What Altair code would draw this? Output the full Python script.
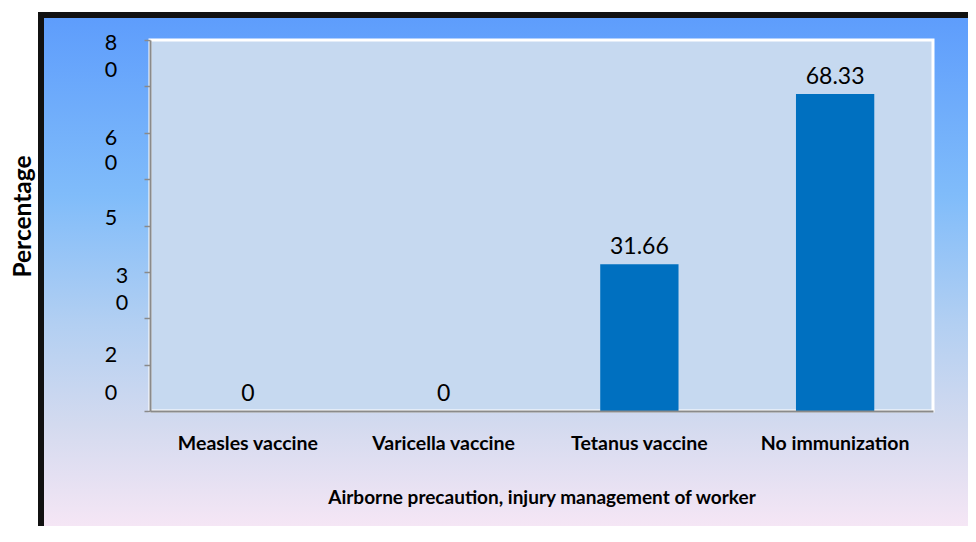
import altair as alt
import pandas as pd

# ---- data ----
categories = ["Measles vaccine", "Varicella vaccine", "Tetanus vaccine", "No immunization"]
values = [0, 0, 31.66, 68.33]
value_labels = ["0", "0", "31.66", "68.33"]

# garbled y tick labels as they appear (one glyph each), with the value where each sits
ytick_text_main = ["8", "0", "6", "0", "5", "2", "0"]
ytick_pos_main = [79.1, 73.4, 58.7, 53.3, 41.5, 11.8, 3.6]
ytick_text_shift = ["3", "0"]
ytick_pos_shift = [28.9, 23.0]

tick_values = [0, 10, 20, 30, 40, 50, 60, 70, 80]

W, H = 783, 371
PAD = {"left": 142, "top": 32, "right": 35, "bottom": 115}
FONT = "Lato"

df = pd.DataFrame({"category": categories, "value": values, "label": value_labels})
df_ya = pd.DataFrame({"t": ytick_text_main, "value": ytick_pos_main})
df_yb = pd.DataFrame({"t": ytick_text_shift, "value": ytick_pos_shift})
one = pd.DataFrame({"k": [0]})

right_edge = W + PAD["right"]
bottom_edge = H + PAD["bottom"]

frame = alt.Chart(one).mark_rect(color="#111111").encode(
    x=alt.value(-112), x2=alt.value(right_edge),
    y=alt.value(-28), y2=alt.value(bottom_edge),
)

grad = alt.Chart(one).mark_rect(
    color=alt.Gradient(
        gradient="linear", x1=0, x2=0, y1=0, y2=1,
        stops=[
            alt.GradientStop(offset=0, color="#5e9dfc"),
            alt.GradientStop(offset=0.35, color="#80bcfa"),
            alt.GradientStop(offset=0.6, color="#b2cff2"),
            alt.GradientStop(offset=0.8, color="#d3daef"),
            alt.GradientStop(offset=1, color="#f5e6f5"),
        ],
    )
).encode(
    x=alt.value(-106), x2=alt.value(right_edge),
    y=alt.value(-22), y2=alt.value(bottom_edge),
)

plotbg = alt.Chart(one).mark_rect(fill="#c6d9f0", stroke="white", strokeWidth=3).encode(
    x=alt.value(0), x2=alt.value(W), y=alt.value(0), y2=alt.value(H),
)

xaxis = alt.Axis(
    title="Airborne precaution, injury management of worker",
    labelAngle=0, ticks=False, tickSize=0, labelPadding=23,
    labelFont=FONT, labelFontSize=19.5, labelFontWeight="bold", labelColor="black",
    titleFont=FONT, titleFontSize=19, titleFontWeight="bold", titleColor="black",
    titlePadding=36, domainColor="#8a8a8a", domainWidth=2, zindex=1,
)
yaxis = alt.Axis(
    title="Percentage", values=tick_values, labels=False, grid=False,
    tickColor="#8a8a8a", tickSize=6, tickWidth=1.5,
    domainColor="#8a8a8a", domainWidth=2,
    titleFont=FONT, titleFontSize=24.5, titleFontWeight="bold", titleColor="black",
    titlePadding=108, titleY=176, zindex=1,
)
xscale = alt.Scale(paddingInner=0.6, paddingOuter=0.3)
yscale = alt.Scale(domain=[0, 80], nice=False, zero=True)

bars = alt.Chart(df).mark_bar(color="#0070c0").encode(
    x=alt.X("category:N", sort=categories, scale=xscale, axis=xaxis),
    y=alt.Y("value:Q", scale=yscale, axis=yaxis),
)

vlabels = alt.Chart(df).mark_text(
    font=FONT, fontSize=23, color="black", baseline="alphabetic", dy=-10
).encode(
    x=alt.X("category:N", sort=categories, scale=xscale, axis=xaxis),
    y=alt.Y("value:Q", scale=yscale, axis=yaxis),
    text="label:N",
)

ylab_a = alt.Chart(df_ya).mark_text(
    font=FONT, fontSize=21.5, color="black", align="center", baseline="middle"
).encode(
    x=alt.value(-39),
    y=alt.Y("value:Q", scale=yscale, axis=yaxis),
    text="t:N",
)
ylab_b = alt.Chart(df_yb).mark_text(
    font=FONT, fontSize=21.5, color="black", align="center", baseline="middle"
).encode(
    x=alt.value(-28),
    y=alt.Y("value:Q", scale=yscale, axis=yaxis),
    text="t:N",
)

chart = alt.layer(frame, grad, plotbg, bars, vlabels, ylab_a, ylab_b).properties(
    width=W, height=H,
    autosize=alt.AutoSizeParams(type="none"),
    padding=PAD,
    background="white",
).configure_view(stroke=None)

chart.save("out.html", embed_options={"renderer": "svg", "actions": False})
